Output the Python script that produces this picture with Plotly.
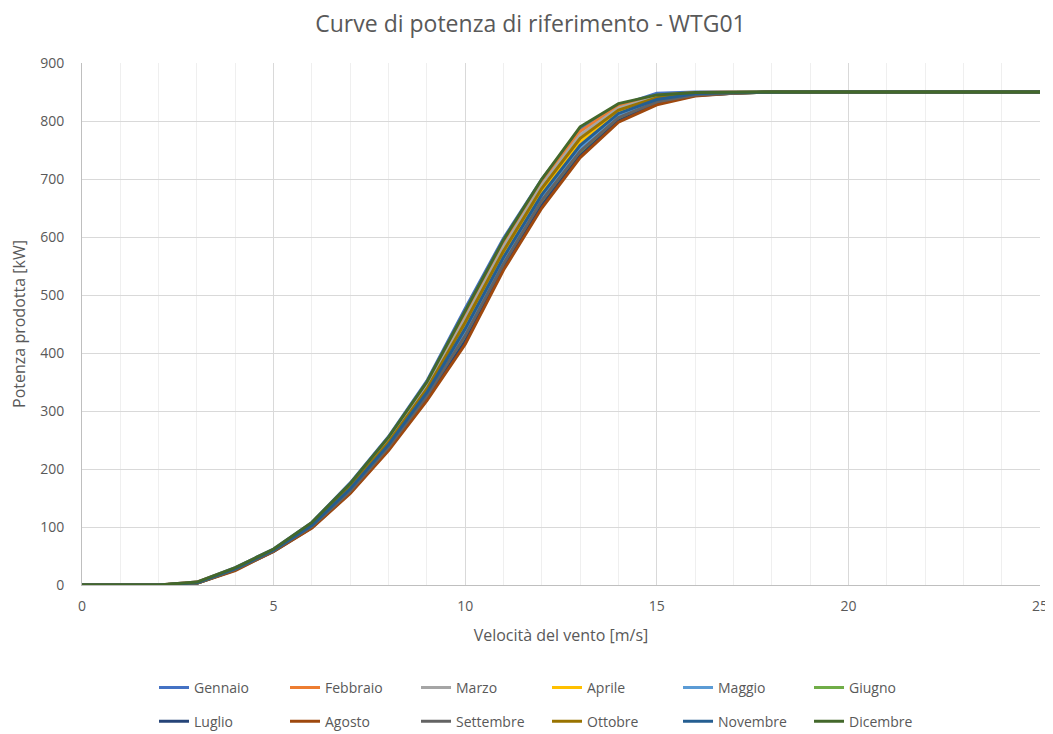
import plotly.graph_objects as go

wind = list(range(26))
months = ["Gennaio", "Febbraio", "Marzo", "Aprile", "Maggio", "Giugno",
          "Luglio", "Agosto", "Settembre", "Ottobre", "Novembre", "Dicembre"]
colors = ["#4472C4", "#ED7D31", "#A5A5A5", "#FFC000", "#5B9BD5", "#70AD47",
          "#264478", "#9E480E", "#636363", "#997300", "#255E91", "#43682B"]

tail = [850] * 8
gennaio   = [0, 0, 0, 5, 30, 62, 108, 176, 256, 352, 477, 598, 700, 785, 826, 848, 850, 850] + tail
febbraio  = [0, 0, 0, 5, 29, 61, 107, 173, 252, 346, 466, 589, 695, 782, 826, 844, 849, 850] + tail
marzo     = [0, 0, 0, 4, 29, 61, 106, 171, 249, 342, 460, 583, 690, 776, 822, 842, 848, 850] + tail
aprile    = [0, 0, 0, 4, 28, 60, 104, 167, 244, 335, 447, 570, 678, 764, 816, 838, 847, 849] + tail
maggio    = [0, 0, 0, 4, 27, 60, 102, 164, 240, 329, 436, 559, 668, 752, 810, 835, 846, 849] + tail
giugno    = [0, 0, 0, 3, 26, 59, 100, 161, 236, 323, 425, 550, 658, 744, 803, 832, 845, 848] + tail
luglio    = [0, 0, 0, 3, 26, 58, 99, 159, 234, 320, 420, 546, 654, 740, 800, 830, 844, 848] + tail
agosto    = [0, 0, 0, 3, 25, 58, 98, 158, 232, 318, 415, 543, 650, 737, 798, 828, 843, 848] + tail
settembre = [0, 0, 0, 3, 27, 59, 101, 162, 238, 326, 430, 554, 663, 748, 806, 833, 845, 848] + tail
ottobre   = [0, 0, 0, 4, 28, 60, 105, 169, 246, 338, 453, 576, 684, 770, 819, 840, 848, 849] + tail
novembre  = [0, 0, 0, 4, 28, 60, 103, 166, 242, 332, 442, 565, 673, 758, 813, 837, 847, 849] + tail
dicembre  = [0, 0, 0, 5, 30, 62, 108, 175, 255, 350, 472, 595, 700, 790, 830, 845, 849, 850] + tail

series = [gennaio, febbraio, marzo, aprile, maggio, giugno,
          luglio, agosto, settembre, ottobre, novembre, dicembre]

FONT = "'Open Sans', 'Noto Sans', sans-serif"
GREY = "#595959"

fig = go.Figure()
for i, (name, col, vals) in enumerate(zip(months, colors, series)):
    fig.add_trace(go.Scatter(x=wind, y=vals, mode="lines", name=name,
                             line=dict(color=col, width=3),
                             legend="legend" if i < 6 else "legend2"))

leg_common = dict(orientation="h", x=0.4854, xanchor="center", yanchor="middle",
                  entrywidth=86, entrywidthmode="pixels",
                  font=dict(size=14, color=GREY, family=FONT),
                  bgcolor="rgba(0,0,0,0)")

# page has an 8px body margin, so the figure is 1045x726 and offset accordingly
fig.update_layout(
    width=1045, height=726,
    paper_bgcolor="white", plot_bgcolor="white",
    margin=dict(l=74, r=13, t=55, b=149, autoexpand=False),
    font=dict(family=FONT, color=GREY, size=14),
    title=dict(text="Curve di potenza di riferimento - WTG01", x=0.5, xanchor="center",
               y=0.978, yanchor="middle",
               font=dict(size=23, color=GREY, family=FONT)),
    legend=dict(y=-0.197, **leg_common),
    legend2=dict(y=-0.262, **leg_common),
    showlegend=True,
)
fig.update_xaxes(range=[0, 25], tickvals=[0, 5, 10, 15, 20, 25],
                 showgrid=True, gridcolor="#D9D9D9", gridwidth=1,
                 minor=dict(dtick=1, showgrid=True, gridcolor="#EFEFEF", gridwidth=1),
                 showline=True, linecolor="#BFBFBF", linewidth=1,
                 zeroline=False, ticks="", automargin=False,
                 ticklabelstandoff=8,
                 title=dict(text="Velocità del vento [m/s]", font=dict(size=16, color=GREY), standoff=16),
                 tickfont=dict(size=14, color=GREY))
fig.update_yaxes(range=[0, 900], dtick=100,
                 showgrid=True, gridcolor="#D9D9D9", gridwidth=1,
                 showline=True, linecolor="#BFBFBF", linewidth=1,
                 zeroline=False, ticks="", automargin=False,
                 ticklabelstandoff=14,
                 title=dict(text="Potenza prodotta [kW]", font=dict(size=16, color=GREY), standoff=12),
                 tickfont=dict(size=14, color=GREY))

fig.write_html("out.html")
